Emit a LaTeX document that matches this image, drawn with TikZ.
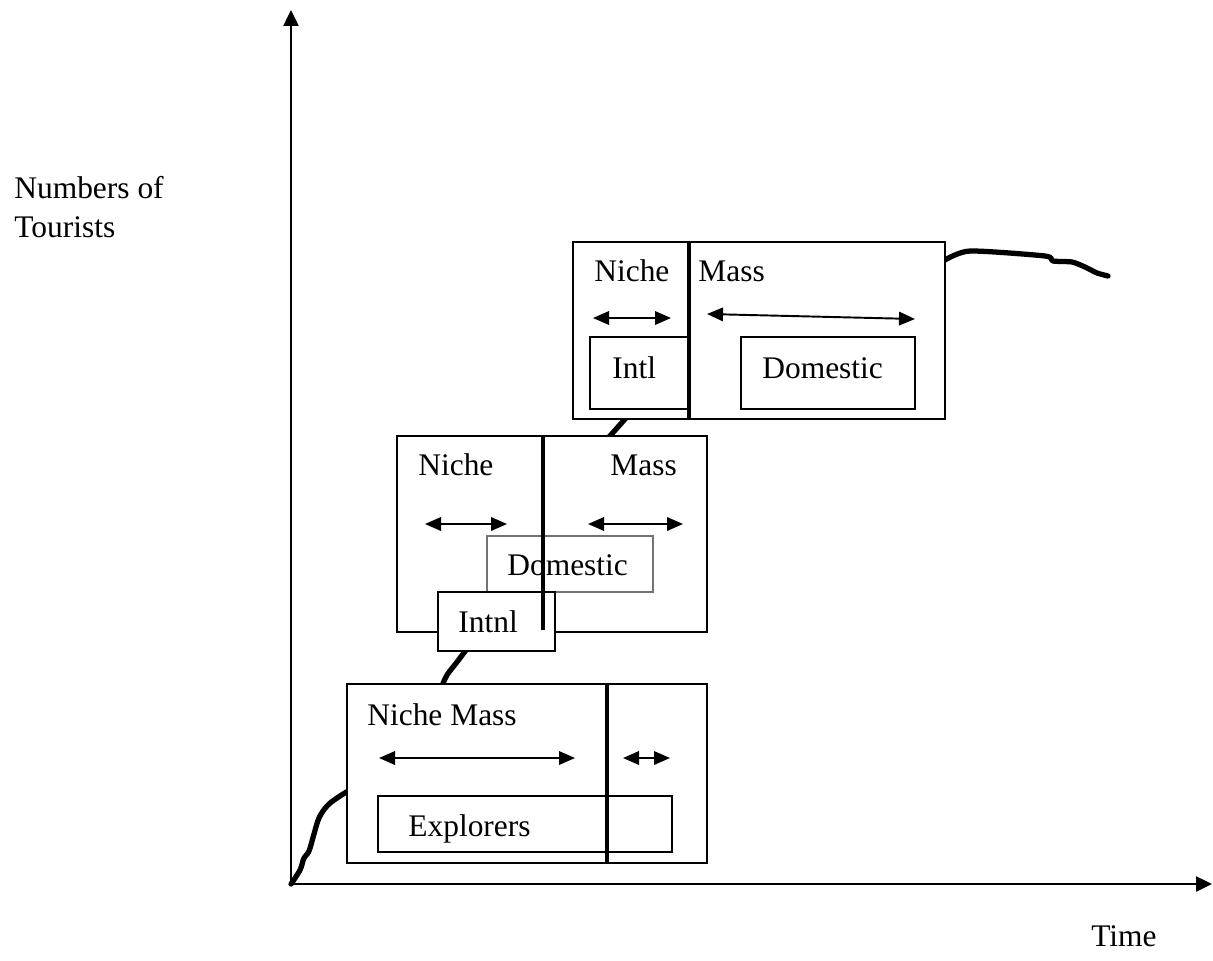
\documentclass[tikz,border=0pt]{standalone}
\usepackage{fontspec}
\setmainfont{Liberation Serif}
\usetikzlibrary{arrows.meta,fit}
\begin{document}
\begin{tikzpicture}[x=0.02cm,y=-0.02cm,
  frame/.style={draw, line width=1pt, inner sep=0pt, fill=white},
  thinframe/.style={draw=black!55, line width=0.8pt, inner sep=0pt, fill=white},
  lbl/.style={anchor=base west, inner sep=0pt, font=\fontsize{17.9}{21}\selectfont},
  divider/.style={line width=2.8pt},
  curve/.style={line width=3pt, line cap=round, line join=round},
  dbl/.style={line width=1.1pt, {Triangle[length=0.32cm,width=0.27cm]}-{Triangle[length=0.32cm,width=0.27cm]}},
  axis/.style={line width=1.4pt, -{Triangle[length=0.32cm,width=0.3cm]}}]
\useasboundingbox[fill=white] (0,0) rectangle (1213,960);

% axes
\coordinate (O) at (291,884);
\coordinate (ytip) at (291,10);
\coordinate (xtip) at (1212,884);
\draw[axis] (O) -- (ytip);
\draw[axis] (O) -- (xtip);
\node[lbl] (ylab1) at (14,198) {Numbers of};
\node[lbl] (ylab2) at (14,237) {Tourists};
\node[lbl] (xlab) at (1091,946) {Time};

% growth curve
\draw[curve] plot[smooth, tension=0.6] coordinates {(291,884) (300,870) (304,858) (309,851) (314,834) (319,818) (327,806) (337,798) (348,791)};
\draw[curve] plot[smooth, tension=0.5] coordinates {(442,686) (447,675) (457,662) (466,650)};
\draw[curve] (609,437) -- (626,418);
\draw[curve] plot[smooth, tension=0.4] coordinates {(945,260) (970,251) (1045,256) (1053,261) (1072,262) (1085,267) (1097,273) (1108,276)};

% box 1
\node[frame, fit={(347,684) (707,863)}] (b1) {};
\node[lbl] (b1t) at (367,725) {Niche Mass};
\coordinate (b1a1) at (379,758); \coordinate (b1a2) at (575,758);
\coordinate (b1a3) at (623,758); \coordinate (b1a4) at (670,758);
\draw[dbl] (b1a1) -- (b1a2);
\draw[dbl] (b1a3) -- (b1a4);
\node[frame, fit={(378,796) (672,852)}] (b1e) {};
\node[lbl] (b1et) at (408,836) {Explorers};
\draw[divider] (b1.north -| 607,0) -- (b1.south -| 607,0);

% box 2
\node[frame, fit={(397,436) (707,632)}] (b2) {};
\node[lbl] (b2n) at (418,475) {Niche};
\node[lbl] (b2m) at (610,475) {Mass};
\coordinate (b2a1) at (425,524); \coordinate (b2a2) at (507,524);
\coordinate (b2a3) at (588,524); \coordinate (b2a4) at (683,524);
\draw[dbl] (b2a1) -- (b2a2);
\draw[dbl] (b2a3) -- (b2a4);
\node[thinframe, fit={(487,536) (653,592)}] (b2d) {};
\node[lbl] (b2dt) at (507,575) {Domestic};
\node[frame, fit={(438,592) (555,651)}] (b2i) {};
\node[lbl] (b2it) at (458,632) {Intnl};
\draw[divider] (b2.north -| 543,0) -- (543,630);

% box 3
\node[frame, fit={(573,242) (945,419)}] (b3) {};
\node[lbl] (b3n) at (594,281) {Niche};
\node[lbl] (b3m) at (698,281) {Mass};
\coordinate (b3a1) at (593,318); \coordinate (b3a2) at (671,318);
\coordinate (b3a3) at (707,314); \coordinate (b3a4) at (915,319);
\draw[dbl] (b3a1) -- (b3a2);
\draw[dbl] (b3a3) -- (b3a4);
\node[frame, fit={(590,337) (689,409)}] (b3i) {};
\node[lbl] (b3it) at (612,378) {Intl};
\node[frame, fit={(741,337) (915,409)}] (b3d) {};
\node[lbl] (b3dt) at (762,378) {Domestic};
\draw[divider] (b3.north -| 689,0) -- (b3.south -| 689,0);
\end{tikzpicture}
\end{document}
